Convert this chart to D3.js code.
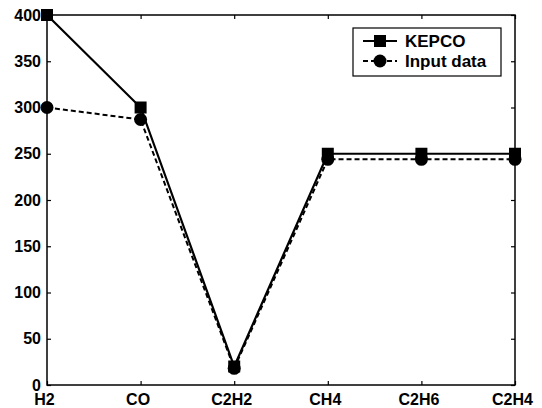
<!DOCTYPE html>
<html>
<head>
<meta charset="utf-8">
<script src="https://cdn.jsdelivr.net/npm/d3@7"></script>
<style>
  body { margin: 0; background: #fff; }
  text { font-family: "Liberation Sans", Arial, sans-serif; font-weight: bold; fill: #000; }
</style>
</head>
<body>
<div id="chart"></div>
<script>
// chart data
var gases = ["H2", "CO", "C2H2", "CH4", "C2H6", "C2H4"];
var kepco = [400, 300, 20, 250, 250, 250];
var inputData = [300, 287, 18, 244, 244, 244];
var yTicks = [0, 50, 100, 150, 200, 250, 300, 350, 400];

var svgWidth = 542, svgHeight = 408;
var margin = { top: 15, right: 27, bottom: 23, left: 47 };
var width = svgWidth - margin.left - margin.right;
var height = svgHeight - margin.top - margin.bottom;

var svg = d3.select("#chart").append("svg")
  .attr("width", svgWidth)
  .attr("height", svgHeight);

var chartGroup = svg.append("g")
  .attr("transform", `translate(${margin.left}, ${margin.top})`);

var xScale = d3.scalePoint().domain(gases).range([0, width]);
var yScale = d3.scaleLinear().domain([0, 400]).range([height, 0]);

// frame
chartGroup.append("rect")
  .attr("width", width).attr("height", height)
  .attr("fill", "none").attr("stroke", "#000").attr("stroke-width", 1.5);

// axes with inward ticks
var bottomAxis = d3.axisBottom(xScale).tickSize(-4).tickPadding(9);
var topAxis = d3.axisTop(xScale).tickSize(-4).tickFormat("");
var leftAxis = d3.axisLeft(yScale).tickValues(yTicks).tickSize(-4).tickPadding(6);
var rightAxis = d3.axisRight(yScale).tickValues(yTicks).tickSize(-4).tickFormat("");

function styleAxis(g) {
  g.select(".domain").remove();
  g.selectAll(".tick line").attr("stroke", "#000").attr("stroke-width", 1.2);
  g.selectAll("text").style("font-size", "16px").attr("fill", "#000");
}

chartGroup.append("g").attr("transform", `translate(0, ${height})`).call(bottomAxis).call(styleAxis)
  .selectAll("text").attr("dx", -3);
chartGroup.append("g").call(topAxis).call(styleAxis);
chartGroup.append("g").call(leftAxis).call(styleAxis);
chartGroup.append("g").attr("transform", `translate(${width}, 0)`).call(rightAxis).call(styleAxis);

var line = d3.line()
  .x((d, i) => xScale(gases[i]))
  .y(d => yScale(d));

// input data series (dashed, circles)
chartGroup.append("path")
  .datum(inputData)
  .attr("d", line)
  .attr("fill", "none").attr("stroke", "#000")
  .attr("stroke-width", 2).attr("stroke-dasharray", "5,3");

// KEPCO series (solid, squares)
chartGroup.append("path")
  .datum(kepco)
  .attr("d", line)
  .attr("fill", "none").attr("stroke", "#000")
  .attr("stroke-width", 2.2);

chartGroup.selectAll(".sq")
  .data(kepco).enter().append("rect")
  .attr("x", (d, i) => xScale(gases[i]) - 6)
  .attr("y", d => yScale(d) - 6)
  .attr("width", 12).attr("height", 12)
  .attr("fill", "#000");

chartGroup.selectAll(".dot")
  .data(inputData).enter().append("circle")
  .attr("cx", (d, i) => xScale(gases[i]))
  .attr("cy", d => yScale(d))
  .attr("r", 6.5)
  .attr("fill", "#000");

// legend
var legend = svg.append("g").attr("transform", "translate(353, 28)");
legend.append("rect")
  .attr("width", 148).attr("height", 48)
  .attr("fill", "#fff").attr("stroke", "#000").attr("stroke-width", 1.2);

var kRow = legend.append("g").attr("transform", "translate(0, 13)");
kRow.append("line").attr("x1", 10).attr("x2", 44).attr("stroke", "#000").attr("stroke-width", 2.2);
kRow.append("rect").attr("x", 21).attr("y", -6).attr("width", 12).attr("height", 12).attr("fill", "#000");
kRow.append("text").attr("x", 52).attr("y", 6).style("font-size", "17px").text("KEPCO");

var iRow = legend.append("g").attr("transform", "translate(0, 33)");
iRow.append("line").attr("x1", 10).attr("x2", 44).attr("stroke", "#000")
  .attr("stroke-width", 2).attr("stroke-dasharray", "5,3");
iRow.append("circle").attr("cx", 27).attr("r", 6.5).attr("fill", "#000");
iRow.append("text").attr("x", 52).attr("y", 6).style("font-size", "17px").text("Input data");
</script>
</body>
</html>
